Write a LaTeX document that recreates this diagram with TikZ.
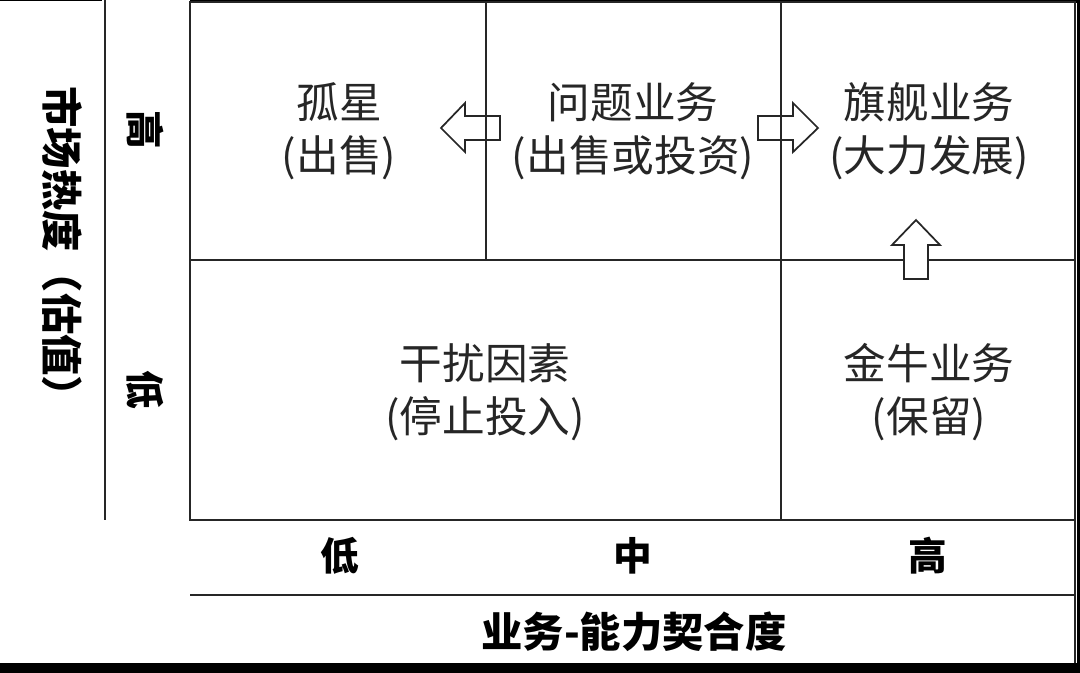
\documentclass[tikz,border=0pt]{standalone}
\usepackage{fontspec}
\setmainfont{Noto Sans CJK SC}
\begin{document}
\begin{tikzpicture}[x=0.75pt,y=-0.75pt,
  grid/.style={line width=1.5pt,draw=black!85},
  blockarrow/.style={line width=1.3pt,draw=black!85},
  cell/.style={align=center,font=\fontsize{32}{40}\selectfont,inner sep=0pt,text=black!85},
  axislab/.style={font=\fontsize{29}{36}\selectfont\bfseries,inner sep=0pt},
  axistitle/.style={font=\fontsize{31}{36}\selectfont\bfseries,inner sep=0pt},
]
\useasboundingbox (0,0) rectangle (1080,673);
\fill[white] (0,0) rectangle (1080,673);
% frame artefacts
\fill[black] (190,0) rectangle (1080,3);
\fill[black] (0,0) rectangle (102,1.5);
\fill[black] (1077,0) rectangle (1080,673);
\fill[black] (0,663) rectangle (1080,673);
% grid
\draw[grid] (190,2) rectangle (1075,520);
\draw[grid] (190,260) -- (1075,260);
\draw[grid] (486,2) -- (486,260);
\draw[grid] (781,2) -- (781,520);
\draw[grid] (190,595) -- (1075,595);
\draw[grid] (1075,520) -- (1075,663);
\draw[grid] (105,0) -- (105,520);
% block arrows
\draw[blockarrow] (500,116) -- (465,116) -- (465,103) -- (441,128) -- (465,152) -- (465,140) -- (500,140) -- cycle;
\draw[blockarrow] (758,116) -- (793,116) -- (793,103) -- (818,128) -- (793,152) -- (793,140) -- (758,140) -- cycle;
\draw[blockarrow,fill=white] (904,279) -- (904,245) -- (892,245) -- (916,220) -- (940,245) -- (928,245) -- (928,279) -- cycle;
% cells
\node[cell] (gx) at (339,131) {孤星\\(出售)};
\node[cell] (wt) at (633,131) {问题业务\\(出售或投资)};
\node[cell] (qj) at (929,131) {旗舰业务\\(大力发展)};
\node[cell] (gr) at (485,392) {干扰因素\\(停止投入)};
\node[cell] (jn) at (929,392) {金牛业务\\(保留)};
% axes
\node[axislab] (xl) at (340,556) {低};
\node[axislab] (xm) at (633,556) {中};
\node[axislab] (xh) at (928,556) {高};
\node[axistitle] (xt) at (634,632) {业务-能力契合度};
\node[axislab,rotate=-90] (yh) at (145,130) {高};
\node[axislab,rotate=-90] (yl) at (145,390) {低};
\node[axistitle,rotate=-90] (yt) at (62,252) {市场热度（估值）};
\end{tikzpicture}
\end{document}
